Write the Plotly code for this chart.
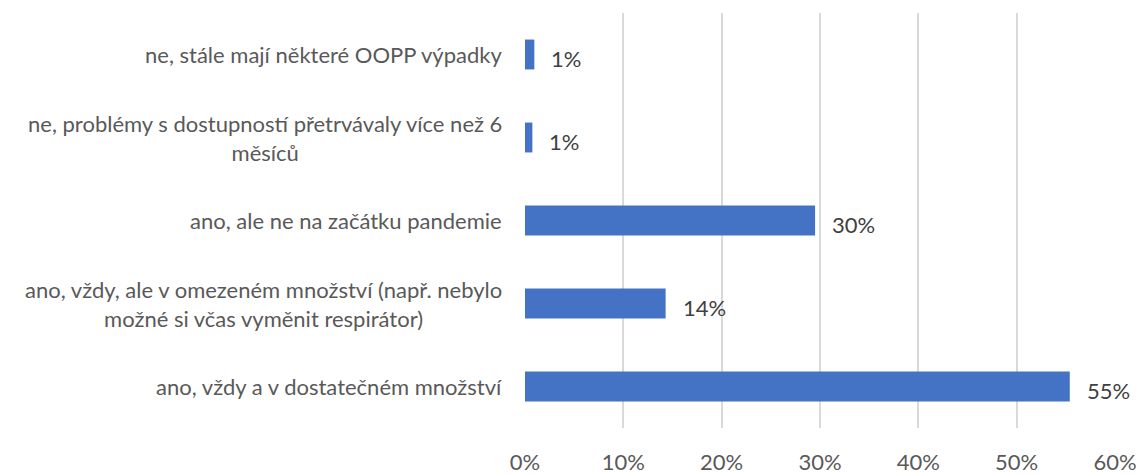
import plotly.graph_objects as go

categories = [
    "ne, stále mají některé OOPP výpadky",
    "ne, problémy s dostupností přetrvávaly více než 6<br>měsíců",
    "ano, ale ne na začátku pandemie",
    "ano, vždy, ale v omezeném množství (např. nebylo<br>možné si včas vyměnit respirátor)",
    "ano, vždy a v dostatečném množství",
]
values = [0.95, 0.75, 29.5, 14.3, 55.4]
value_labels = ["1%", "1%", "30%", "14%", "55%"]
tick_vals = [0, 10, 20, 30, 40, 50, 60]
tick_text = ["0%", "10%", "20%", "30%", "40%", "50%", "60%"]

FONT = "Lato"
TXT = "#595959"
FS = 22

fig = go.Figure()
fig.add_trace(go.Bar(
    y=list(range(len(categories))),
    x=values,
    orientation="h",
    marker=dict(color="#4472C4", line=dict(width=0)),
    hoverinfo="skip",
))

annotations = []
for i, (c, v, t) in enumerate(zip(categories, values, value_labels)):
    annotations.append(dict(
        xref="paper", yref="y", x=0, y=i, text=c, showarrow=False,
        xanchor="right", yanchor="middle", align="center", xshift=-21,
        font=dict(family=FONT, size=FS, color=TXT),
    ))
    annotations.append(dict(
        xref="x", yref="y", x=v, y=i, text=t, showarrow=False,
        xanchor="left", yanchor="middle", xshift=15, yshift=-4,
        font=dict(family=FONT, size=FS, color="#404040"),
    ))

fig.update_layout(
    width=1140, height=475,
    margin=dict(l=525, r=25, t=13, b=47),
    paper_bgcolor="white", plot_bgcolor="white",
    showlegend=False,
    bargap=0.64,
    annotations=annotations,
    xaxis=dict(
        range=[0, 60], tickvals=tick_vals, ticktext=tick_text,
        showgrid=True, gridcolor="#d9d9d9", gridwidth=2,
        zeroline=False, showline=False, ticks="",
        ticklabelstandoff=19, automargin=False,
        tickfont=dict(family=FONT, size=FS, color=TXT),
    ),
    yaxis=dict(
        range=[len(categories) - 0.5, -0.5], automargin=False,
        showticklabels=False, showgrid=False, zeroline=False, showline=False, ticks="",
    ),
)

fig.write_html(
    "out.html",
    config={"displayModeBar": False},
    post_script="document.body.style.margin='0';document.body.style.overflow='hidden';",
)
